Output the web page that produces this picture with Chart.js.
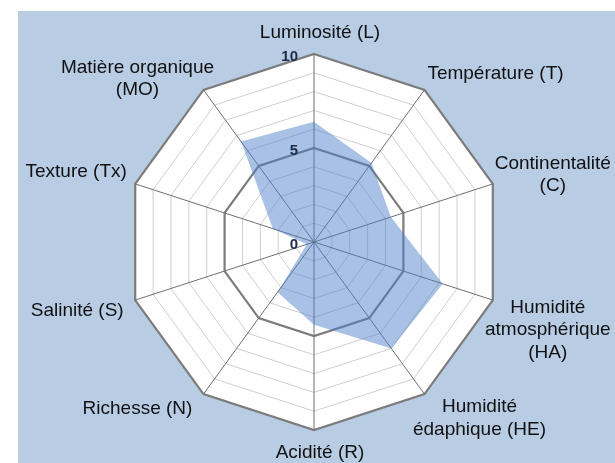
<!DOCTYPE html>
<html>
<head>
<meta charset="utf-8">
<script src="https://cdn.jsdelivr.net/npm/chart.js@4/dist/chart.umd.min.js"></script>
<style>
  html, body { margin: 0; padding: 0; background: #fff; }
  #wrap { position: relative; width: 615px; height: 463px; overflow: hidden; }
  #bg { position: absolute; left: 18px; top: 11px; right: 0; bottom: 0; background: #b8cce4; }
  #radar { position: absolute; left: 0; top: 0; }
</style>
</head>
<body>
<div id="wrap">
  <div id="bg"></div>
  <canvas id="radar" width="615" height="463"></canvas>
</div>
<script>
    // axes (clockwise from the top)
    const labels = [
        'Luminosité (L)',
        'Température (T)',
        ['Continentalité', '(C)'],
        ['Humidité', 'atmosphérique', '(HA)'],
        ['Humidité', 'édaphique (HE)'],
        'Acidité (R)',
        'Richesse (N)',
        'Salinité (S)',
        'Texture (Tx)',
        ['Matière organique', '(MO)']
    ];
    // valeurs
    const values = [6.4, 5.2, 4.3, 7.2, 7.0, 4.4, 3.3, 0.4, 2.3, 6.6];
    const tickLabels = [0, 5, 10];
    const scaleMin = 0;
    const scaleMax = 10;

    // décalage des étiquettes par rapport au sommet de chaque axe
    const labelOffsets = [
        [6, -21], [71, -16], [60, -9], [55, 30], [55, 24],
        [6, 23], [-66, 15], [-58, 11], [-59, -12], [-66, -11]
    ];

    const axisLabelPlugin = {
        id: 'axisLabels',
        afterDatasetsDraw(chart) {
            const scale = chart.scales.r;
            const ctx = chart.ctx;
            ctx.save();
            // graduations 0 / 5 / 10
            ctx.font = 'bold 15px "Liberation Sans", Arial, sans-serif';
            ctx.fillStyle = '#1f2d4a';
            ctx.textAlign = 'right';
            ctx.textBaseline = 'middle';
            tickLabels.forEach(v => {
                const d = scale.getDistanceFromCenterForValue(v);
                ctx.fillText(String(v), scale.xCenter - 16, scale.yCenter - d + 3);
            });
            // noms des axes
            ctx.font = '19px "Liberation Sans", Arial, sans-serif';
            ctx.fillStyle = '#111';
            ctx.textAlign = 'center';
            const lineH = 22.5;
            labels.forEach((lab, i) => {
                const lines = Array.isArray(lab) ? lab : [lab];
                const p = scale.getPointPosition(i, scale.drawingArea);
                const cx = p.x + labelOffsets[i][0];
                const cy = p.y + labelOffsets[i][1];
                const top = cy - (lines.length - 1) * lineH / 2;
                lines.forEach((t, k) => ctx.fillText(t, cx, top + k * lineH));
            });
            ctx.restore();
        }
    };

    const ctx = document.getElementById('radar').getContext('2d');
    const chart = new Chart(ctx, {
        type: 'radar',
        data: {
            labels: labels,
            datasets: [{
                data: values,
                backgroundColor: 'rgba(75, 125, 200, 0.48)',
                borderWidth: 0,
                pointRadius: 0,
                fill: true
            }]
        },
        options: {
            responsive: false,
            animation: false,
            layout: { padding: { left: 126, right: 113, top: 54, bottom: 33 } },
            plugins: {
                legend: { display: false },
                tooltip: { enabled: false }
            },
            scales: {
                r: {
                    min: scaleMin,
                    max: scaleMax,
                    backgroundColor: '#ffffff',
                    ticks: { display: false, stepSize: 1 },
                    pointLabels: { display: false },
                    angleLines: { color: '#6f6f6f', lineWidth: 1 },
                    grid: {
                        circular: false,
                        color: c => (c.tick && c.tick.value % 5 === 0) ? '#7c7c7c' : '#cfcfcf',
                        lineWidth: c => (c.tick && c.tick.value % 5 === 0) ? 2.2 : 1
                    }
                }
            }
        },
        plugins: [axisLabelPlugin]
    });
</script>
</body>
</html>
